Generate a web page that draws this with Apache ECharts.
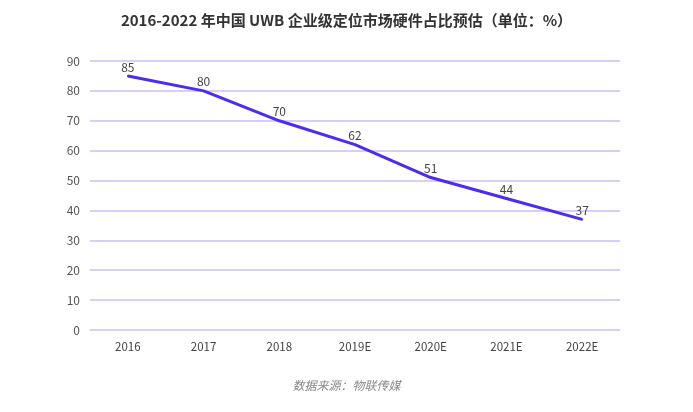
<!DOCTYPE html>
<html>
<head>
<meta charset="utf-8">
<style>
    html, body { margin: 0; padding: 0; background: #fff; }
    #chart { width: 693px; height: 412px; }
</style>
<script src="https://cdn.jsdelivr.net/npm/echarts@6/dist/echarts.min.js"></script>
</head>
<body>
<div id="chart"></div>
<script>
// 数据
var years = ['2016', '2017', '2018', '2019E', '2020E', '2021E', '2022E'];
var shares = [85, 80, 70, 62, 51, 44, 37];
var yTicks = [0, 10, 20, 30, 40, 50, 60, 70, 80, 90];

var myChart = echarts.init(document.getElementById('chart'));
var option = {
    backgroundColor: '#fff',
    animation: false,
    title: [{
        text: '2016-2022 年中国 UWB 企业级定位市场硬件占比预估（单位：%）',
        left: 'center',
        top: 8,
        textStyle: {
            fontFamily: 'Noto Sans CJK SC',
            fontSize: 15,
            fontWeight: 'bold',
            color: '#333'
        }
    }, {
        text: '数据来源：物联传媒',
        left: 'center',
        top: 374,
        textStyle: {
            fontFamily: 'Noto Sans CJK SC',
            fontSize: 12,
            fontWeight: 'normal',
            fontStyle: 'italic',
            color: '#888'
        }
    }],
    grid: {
        left: 90,
        right: 73,
        top: 61,
        bottom: 82
    },
    xAxis: {
        type: 'category',
        data: years,
        boundaryGap: true,
        axisLine: { show: false },
        axisTick: { show: false },
        axisLabel: {
            margin: 11,
            fontFamily: 'Noto Sans CJK SC',
            fontSize: 11.5,
            color: '#444'
        }
    },
    yAxis: {
        type: 'value',
        min: yTicks[0],
        max: yTicks[yTicks.length - 1],
        interval: 10,
        axisLine: { show: false },
        axisTick: { show: false },
        axisLabel: {
            margin: 10,
            fontFamily: 'Noto Sans CJK SC',
            fontSize: 12,
            color: '#555'
        },
        splitLine: {
            lineStyle: { color: '#c9c1f7', width: 1.5 }
        }
    },
    series: [{
        name: '硬件占比',
        type: 'line',
        data: shares,
        symbol: 'circle',
        symbolSize: 2,
        showSymbol: true,
        lineStyle: { color: '#4a2cf2', width: 3 },
        itemStyle: { color: '#4a2cf2' },
        label: {
            show: true,
            position: 'top',
            distance: 2,
            fontFamily: 'Noto Sans CJK SC',
            fontSize: 12,
            color: '#444'
        }
    }]
};
myChart.setOption(option);
</script>
</body>
</html>
